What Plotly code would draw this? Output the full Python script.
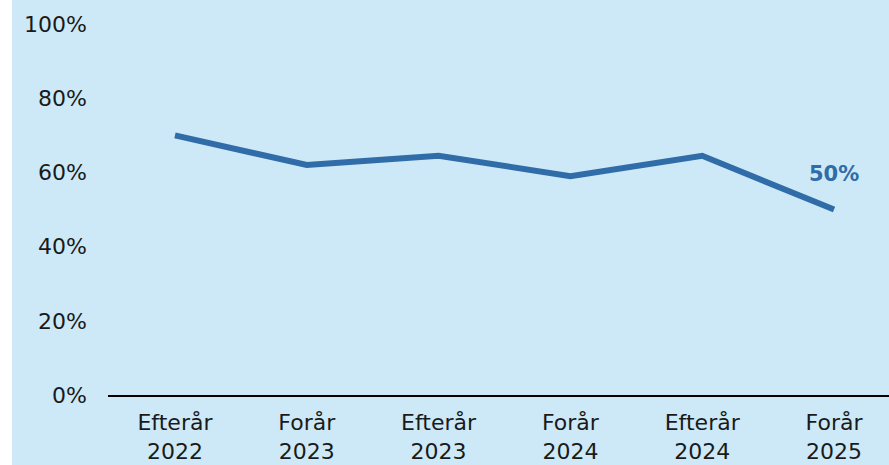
import plotly.graph_objects as go

categories = ["Efterår<br>2022", "Forår<br>2023", "Efterår<br>2023",
              "Forår<br>2024", "Efterår<br>2024", "Forår<br>2025"]
values = [70, 62, 64.5, 59, 64.5, 50]
y_ticks = [0, 20, 40, 60, 80, 100]
y_tick_labels = ["0%", "20%", "40%", "60%", "80%", "100%"]
last_label = "50%"

BG = "#cde9f7"
LINE = "#306ca8"
TXT = "#1a1a1a"
FONT = "DejaVu Sans"

W, H = 889, 465
L, R, T, B = 108, 0, 0, 70
pw = W - L - R
ph = H - T - B

fig = go.Figure()
fig.add_trace(go.Scatter(
    x=list(range(len(categories))), y=values, mode="lines",
    line=dict(color=LINE, width=6), hoverinfo="skip", showlegend=False,
))

fig.add_annotation(
    x=len(values) - 1, y=values[-1], text=f"<b>{last_label}</b>",
    showarrow=False, yshift=36,
    font=dict(family=FONT, size=21, color=LINE),
)

# left white strip of the page
fig.add_shape(type="rect", xref="paper", yref="paper",
              x0=-0.3, x1=-(L - 12) / pw, y0=-0.5, y1=1.1,
              fillcolor="white", line=dict(width=0), layer="above")

fig.update_layout(
    width=W, height=H,
    margin=dict(l=L, r=R, t=T, b=B, pad=0),
    paper_bgcolor=BG, plot_bgcolor=BG,
    font=dict(family=FONT, size=22, color=TXT),
    showlegend=False,
)
fig.update_xaxes(
    range=[-0.508, len(categories) - 1 + 0.417],
    tickmode="array", tickvals=list(range(len(categories))), ticktext=categories,
    showgrid=False, zeroline=False, showline=True, linecolor="black", linewidth=2,
    ticks="", ticklabelstandoff=7, tickfont=dict(family=FONT, size=22, color=TXT),
    fixedrange=True,
)
fig.update_yaxes(
    range=[0, 106.5], tickmode="array", tickvals=y_ticks, ticktext=y_tick_labels,
    showgrid=False, zeroline=False, showline=False, ticks="",
    ticklabelstandoff=20, tickfont=dict(family=FONT, size=22, color=TXT),
    fixedrange=True,
)

fig.write_html(
    "out.html",
    config={"displayModeBar": False},
    post_script="document.body.style.margin='0px';document.body.style.overflow='hidden';",
)
